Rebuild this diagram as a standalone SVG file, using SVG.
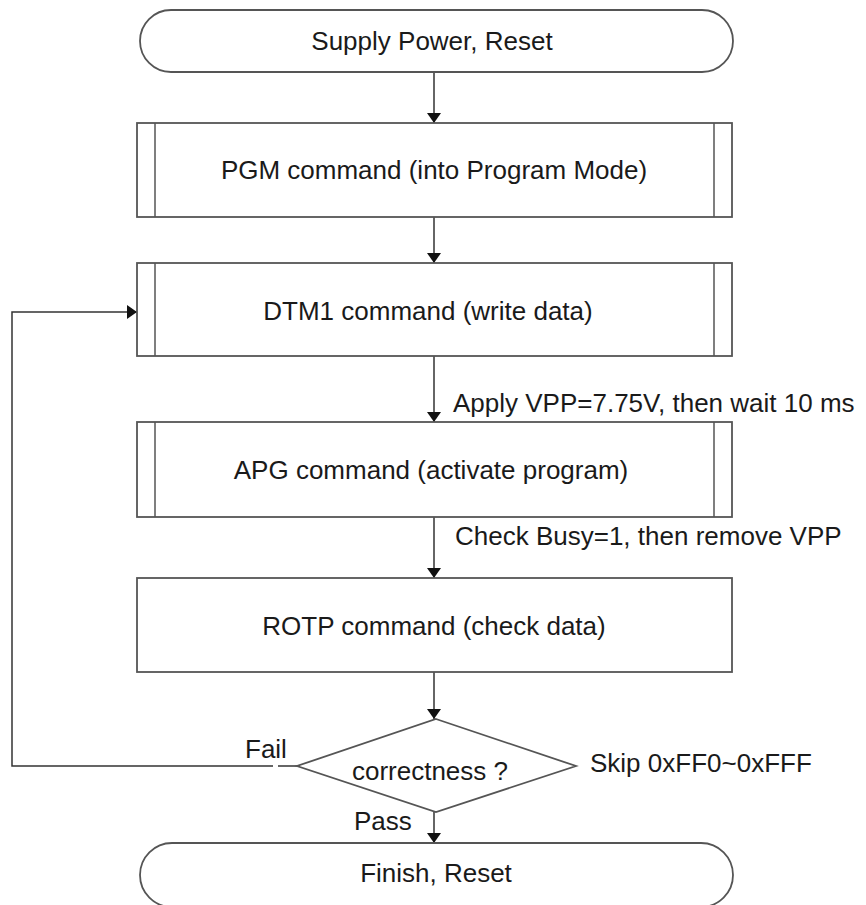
<svg xmlns="http://www.w3.org/2000/svg" width="866" height="905" viewBox="0 0 866 905">
<style>
.shape{fill:#fff;stroke:#555;stroke-width:1.8}
.inner{stroke:#555;stroke-width:1.5}
.conn{fill:none;stroke:#333;stroke-width:1.5}
text{font-family:"Liberation Sans",Arial,sans-serif;font-size:26px;fill:#1a1a1a}
.c{text-anchor:middle;dominant-baseline:central}
.l{dominant-baseline:central}
</style>
<defs>
<marker id="arr" viewBox="0 0 10 14" refX="10" refY="7" markerWidth="10" markerHeight="14" markerUnits="userSpaceOnUse" orient="auto">
<path d="M0,0 L10,7 L0,14 Z" fill="#111"/>
</marker>
</defs>
<rect width="866" height="905" fill="#fff"/>
<g id="connectors">
<line class="conn" x1="434" y1="72" x2="434" y2="123" marker-end="url(#arr)"/>
<line class="conn" x1="434" y1="217" x2="434" y2="263" marker-end="url(#arr)"/>
<line class="conn" x1="434" y1="356" x2="434" y2="422" marker-end="url(#arr)"/>
<line class="conn" x1="434" y1="517" x2="434" y2="578" marker-end="url(#arr)"/>
<line class="conn" x1="434" y1="672" x2="434" y2="719" marker-end="url(#arr)"/>
<line class="conn" x1="434" y1="812" x2="434" y2="843" marker-end="url(#arr)"/>
<polyline class="conn" points="273,766 12,766 12,312 137,312" marker-end="url(#arr)"/>
<line class="conn" x1="278" y1="766" x2="297" y2="766"/>
<text x="453" y="403" class="l">Apply VPP=7.75V, then wait 10 ms</text>
<text x="455" y="536" class="l">Check Busy=1, then remove VPP</text>
<text x="245" y="749" class="l">Fail</text>
<text x="354" y="821" class="l">Pass</text>
<text x="590" y="763" class="l">Skip 0xFF0~0xFFF</text>
</g>
<g id="start">
<rect class="shape" x="140" y="10" width="593" height="62" rx="31" ry="31"/>
<text x="432" y="41" class="c">Supply Power, Reset</text>
</g>
<g id="pgm">
<rect class="shape" x="137" y="123" width="595" height="94"/>
<line class="inner" x1="155" y1="123" x2="155" y2="217"/>
<line class="inner" x1="714" y1="123" x2="714" y2="217"/>
<text x="434" y="170" class="c">PGM command (into Program Mode)</text>
</g>
<g id="dtm1">
<rect class="shape" x="137" y="263" width="595" height="93"/>
<line class="inner" x1="155" y1="263" x2="155" y2="356"/>
<line class="inner" x1="714" y1="263" x2="714" y2="356"/>
<text x="428" y="311" class="c">DTM1 command (write data)</text>
</g>
<g id="apg">
<rect class="shape" x="137" y="422" width="595" height="95"/>
<line class="inner" x1="155" y1="422" x2="155" y2="517"/>
<line class="inner" x1="714" y1="422" x2="714" y2="517"/>
<text x="431" y="470" class="c">APG command (activate program)</text>
</g>
<g id="rotp">
<rect class="shape" x="137" y="578" width="595" height="94"/>
<text x="434" y="626" class="c">ROTP command (check data)</text>
</g>
<g id="decision">
<polygon class="shape" points="436,719 576,766 436,812 297,766"/>
<text x="430" y="771" class="c">correctness ?</text>
</g>
<g id="finish">
<rect class="shape" x="140" y="843" width="593" height="64" rx="32" ry="32"/>
<text x="436" y="873" class="c">Finish, Reset</text>
</g>
</svg>
